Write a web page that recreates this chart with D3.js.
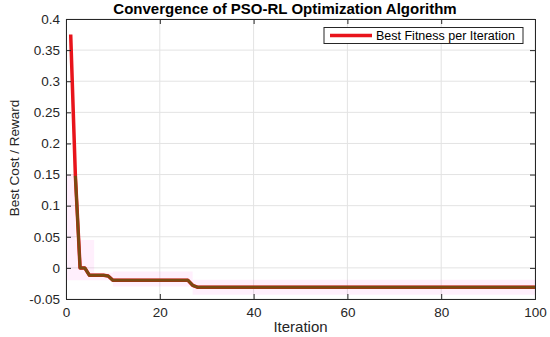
<!DOCTYPE html>
<html>
<head>
<meta charset="utf-8">
<script src="https://cdn.jsdelivr.net/npm/d3@7"></script>
<style>
body { margin: 0; background: #fff; }
text { font-family: "Liberation Sans", Arial, sans-serif; }
</style>
</head>
<body>
<script>
// best fitness per iteration (1..100)
var iterations = d3.range(1, 101);
var bestFitness = [0.375, 0.148, 0.0, 0.0, -0.012, -0.012, -0.012, -0.012, -0.013, -0.02]
    .concat(d3.range(11, 27).map(function() { return -0.02; }))
    .concat([-0.028])
    .concat(d3.range(28, 101).map(function() { return -0.031; }));
// faint shaded band (step breakpoints)
var bandStart = [0, 2, 3, 6, 10, 27];
var bandUpper = [0.15, 0.045, 0.045, -0.008, -0.006, -0.019];
var bandLower = [-0.02, -0.02, -0.02, -0.02, -0.03, -0.043];
var xTicks = [0, 20, 40, 60, 80, 100];
var yTicks = [-0.05, 0, 0.05, 0.1, 0.15, 0.2, 0.25, 0.3, 0.35, 0.4];

var width = 550, height = 337;
var margin = {left: 66, right: 15, top: 19, bottom: 38};
var svg = d3.select("body").append("svg")
    .attr("width", width)
    .attr("height", height);

var x = d3.scaleLinear().domain([0, 100]).range([margin.left, width - margin.right]);
var y = d3.scaleLinear().domain([-0.05, 0.4]).range([height - margin.bottom, margin.top]);

var g = svg.append("g");

// grid
g.selectAll(".gx").data(xTicks).enter().append("line")
    .attr("x1", function(d) { return x(d); }).attr("x2", function(d) { return x(d); })
    .attr("y1", y(-0.05)).attr("y2", y(0.4))
    .style("stroke", "#e3e3e3").style("stroke-width", 1);
g.selectAll(".gy").data(yTicks).enter().append("line")
    .attr("x1", x(0)).attr("x2", x(100))
    .attr("y1", function(d) { return y(d); }).attr("y2", function(d) { return y(d); })
    .style("stroke", "#e3e3e3").style("stroke-width", 1);

// shaded band
var band = bandStart.map(function(s, i) { return {x: s, hi: bandUpper[i], lo: bandLower[i]}; });
band.push({x: 100, hi: bandUpper[bandUpper.length - 1], lo: bandLower[bandLower.length - 1]});
var area = d3.area()
    .x(function(d) { return x(d.x); })
    .y0(function(d) { return y(d.lo); })
    .y1(function(d) { return y(d.hi); })
    .curve(d3.curveStepAfter);
g.append("path").datum(band).attr("d", area)
    .style("fill", "#ff66dd").style("fill-opacity", 0.1);

var pts = iterations.map(function(it, i) { return {x: it, y: bestFitness[i]}; });
var line = d3.line()
    .x(function(d) { return x(d.x); })
    .y(function(d) { return y(d.y); });

g.append("path").datum(pts).attr("d", line)
    .style("fill", "none").style("stroke", "#e8141b").style("stroke-width", 3.5)
    .style("stroke-linejoin", "round");
g.append("path").datum(pts.slice(1)).attr("d", line)
    .style("fill", "none").style("stroke", "#7a4a12").style("stroke-width", 3)
    .style("stroke-linejoin", "round");

// axes (box)
var axisColor = "#262626";
var xAxis = d3.axisBottom(x).tickValues(xTicks).tickSize(-5).tickPadding(8);
var yAxis = d3.axisLeft(y).tickValues(yTicks).tickSize(-5).tickPadding(6)
    .tickFormat(function(d) { return d === 0 ? "0" : String(+d.toFixed(2)); });

var gx = svg.append("g").attr("transform", "translate(0," + y(-0.05) + ")").call(xAxis);
var gy = svg.append("g").attr("transform", "translate(" + x(0) + ",0)").call(yAxis);
var gxt = svg.append("g").attr("transform", "translate(0," + y(0.4) + ")")
    .call(d3.axisTop(x).tickValues(xTicks).tickSize(-5).tickFormat(""));
var gyr = svg.append("g").attr("transform", "translate(" + x(100) + ",0)")
    .call(d3.axisRight(y).tickValues(yTicks).tickSize(-5).tickFormat(""));
[gx, gy, gxt, gyr].forEach(function(a) {
    a.selectAll("path").style("stroke", axisColor).attr("stroke-width", 1);
    a.selectAll("line").style("stroke", axisColor);
    a.selectAll("text").style("fill", "#262626").style("font-size", "13.5px")
        .style("font-family", "'Liberation Sans', Arial, sans-serif");
});

// title and labels
svg.append("text").attr("x", 285).attr("y", 14).attr("text-anchor", "middle")
    .style("font-size", "15px").style("font-weight", "bold").style("fill", "#000")
    .text("Convergence of PSO-RL Optimization Algorithm");
svg.append("text").attr("x", x(50)).attr("y", 332).attr("text-anchor", "middle")
    .style("font-size", "15px").style("fill", "#262626").text("Iteration");
svg.append("text").attr("transform", "translate(19," + 158 + ") rotate(-90)")
    .attr("text-anchor", "middle")
    .style("font-size", "13.5px").style("fill", "#262626").text("Best Cost / Reward");

// legend
var lg = svg.append("g");
lg.append("rect").attr("x", 324).attr("y", 27.5).attr("width", 199).attr("height", 16)
    .style("fill", "#fff").style("stroke", "#262626").style("stroke-width", 1);
lg.append("line").attr("x1", 330).attr("x2", 372).attr("y1", 35.5).attr("y2", 35.5)
    .style("stroke", "#e8141b").style("stroke-width", 3.5);
lg.append("text").attr("x", 376).attr("y", 40)
    .style("font-size", "12.5px").style("fill", "#000").text("Best Fitness per Iteration");
</script>
</body>
</html>
